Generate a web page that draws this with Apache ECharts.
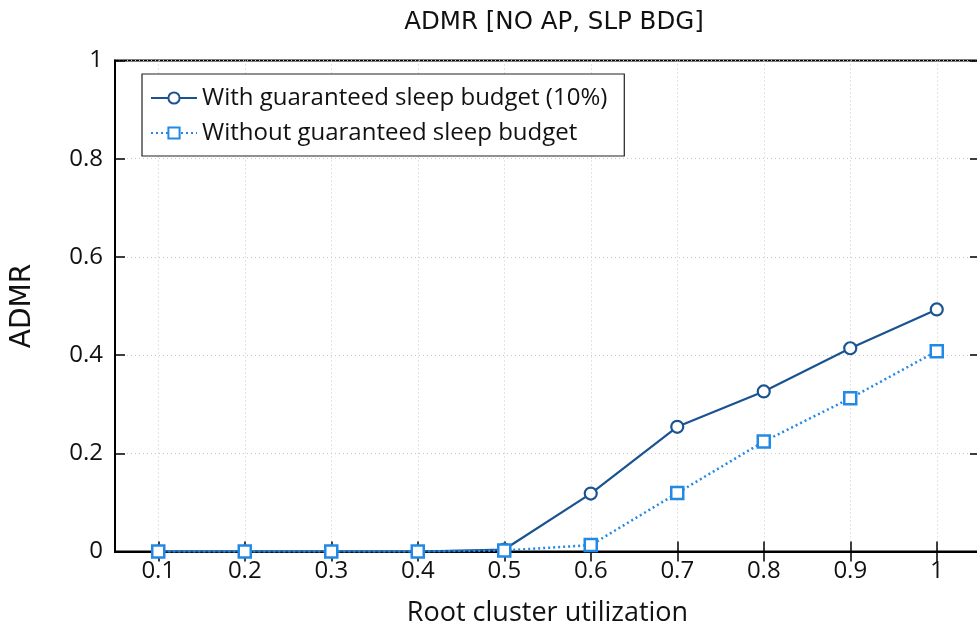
<!DOCTYPE html>
<html>
<head>
<meta charset="utf-8">
<script src="https://cdn.jsdelivr.net/npm/echarts@6/dist/echarts.min.js"></script>
<style>
  html, body { margin: 0; padding: 0; background: #fff; }
  #chart { width: 977px; height: 630px; }
</style>
</head>
<body>
<div id="chart"></div>
<script>
// Root cluster utilization steps (x categories)
const utilization = ['0.1', '0.2', '0.3', '0.4', '0.5', '0.6', '0.7', '0.8', '0.9', '1'];
// ADMR with a guaranteed 10% sleep budget
const withBudget = [0, 0, 0, 0, 0.004, 0.118, 0.254, 0.326, 0.414, 0.493];
// ADMR without a guaranteed sleep budget
const withoutBudget = [0, 0, 0, 0, 0.002, 0.013, 0.119, 0.224, 0.312, 0.408];

const FONT = 'Open Sans';
const CAPS_FONT = 'DejaVu Sans';
const chart = echarts.init(document.getElementById('chart'), null, { renderer: 'canvas' });

const tickStyle = { show: true, inside: true, length: 10, lineStyle: { color: '#000', width: 1.5 } };
const gridLine = { show: true, lineStyle: { color: '#c8c8c8', type: [1, 3], width: 1 } };

chart.setOption({
  animation: false,
  backgroundColor: '#fff',
  title: {
    text: 'ADMR [NO AP, SLP BDG]',
    left: 549, top: 5, textAlign: 'center',
    textStyle: { fontFamily: CAPS_FONT, fontWeight: 'normal', fontSize: 24.5, color: '#111' }
  },
  grid: { left: 115, top: 60.5, width: 865, height: 491, show: true, borderColor: '#000', borderWidth: 2,
    outerBoundsMode: 'none', containLabel: false },
  legend: {
    orient: 'vertical', left: 142, top: 74,
    padding: [11, 17, 10, 8],
    itemWidth: 46, itemHeight: 14, itemGap: 9,
    borderColor: '#222', borderWidth: 1.2, backgroundColor: '#fff',
    textStyle: { fontFamily: FONT, fontSize: 24, color: '#111', lineHeight: 26 },
    data: ['With guaranteed sleep budget (10%)', 'Without guaranteed sleep budget']
  },
  xAxis: [{
    type: 'category', data: utilization, boundaryGap: true,
    name: 'Root cluster utilization', nameLocation: 'middle', nameGap: 48,
    nameTextStyle: { fontFamily: FONT, fontSize: 27, color: '#111' },
    axisLine: { show: true, lineStyle: { color: '#000', width: 2 } },
    axisTick: Object.assign({ alignWithLabel: true }, tickStyle),
    splitLine: Object.assign({ alignWithLabel: true }, gridLine),
    axisLabel: { fontFamily: FONT, fontSize: 24, color: '#111', margin: 8 }
  }, {
    type: 'category', data: utilization, boundaryGap: true, position: 'top',
    axisLine: { show: true, lineStyle: { color: '#000', width: 2 } },
    axisTick: Object.assign({ alignWithLabel: true }, tickStyle),
    axisLabel: { show: false }, splitLine: { show: false }
  }],
  yAxis: [{
    type: 'value', min: 0, max: 1, interval: 0.2,
    name: 'ADMR', nameLocation: 'middle', nameGap: 78, nameRotate: 90,
    nameTextStyle: { fontFamily: CAPS_FONT, fontSize: 28, color: '#111' },
    axisLine: { show: true, lineStyle: { color: '#000', width: 2 } },
    axisTick: tickStyle, splitLine: gridLine,
    axisLabel: { fontFamily: FONT, fontSize: 24, color: '#111', margin: 12,
      formatter: v => String(+v.toFixed(1)) }
  }, {
    type: 'value', min: 0, max: 1, interval: 0.2, position: 'right',
    axisLine: { show: true, lineStyle: { color: '#000', width: 2 } },
    axisTick: tickStyle, axisLabel: { show: false }, splitLine: { show: false }
  }],
  series: [{
    name: 'With guaranteed sleep budget (10%)', type: 'line', data: withBudget,
    symbol: 'circle', symbolSize: 12, showAllSymbol: true,
    lineStyle: { color: '#1a5391', width: 2.2 },
    itemStyle: { color: '#fff', borderColor: '#1a5391', borderWidth: 2.2 },
    z: 3
  }, {
    name: 'Without guaranteed sleep budget', type: 'line', data: withoutBudget,
    symbol: 'rect', symbolSize: 12, showAllSymbol: true,
    lineStyle: { color: '#2389e6', width: 2.5, type: [2, 3] },
    itemStyle: { color: '#fff', borderColor: '#2389e6', borderWidth: 2.5 },
    z: 4
  }]
});
</script>
</body>
</html>
